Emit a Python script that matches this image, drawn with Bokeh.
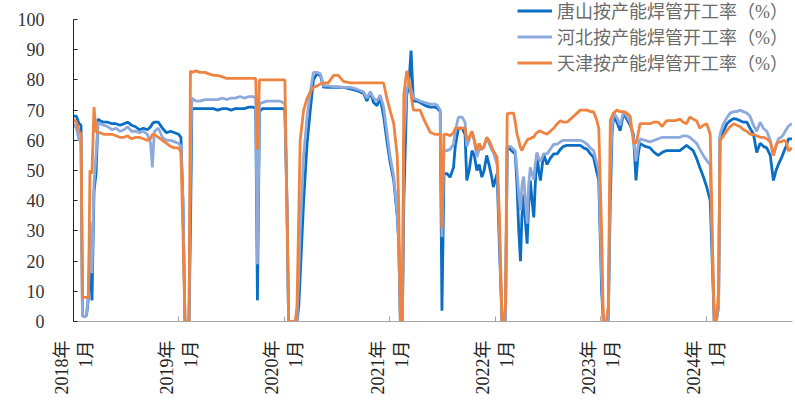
import math
import pandas as pd
from bokeh.plotting import figure
from bokeh.models import Range1d, FixedTicker, Legend, LegendItem, ColumnDataSource
from bokeh.embed import file_html
from bokeh.resources import INLINE

dates = [
    "2018-01-01", "2018-01-11", "2018-01-20", "2018-01-27", "2018-02-01", "2018-02-08", "2018-02-15",
    "2018-02-22", "2018-02-27", "2018-03-06", "2018-03-13", "2018-03-20", "2018-03-27", "2018-04-03",
    "2018-04-16", "2018-04-30", "2018-05-14", "2018-05-28", "2018-06-11", "2018-06-25", "2018-07-07",
    "2018-07-21", "2018-08-04", "2018-08-17", "2018-08-31", "2018-09-14", "2018-09-25", "2018-10-01",
    "2018-10-08", "2018-10-22", "2018-11-05", "2018-11-19", "2018-12-03", "2018-12-17", "2018-12-31",
    "2019-01-08", "2019-01-15", "2019-01-22", "2019-02-05", "2019-02-10", "2019-02-15", "2019-03-01",
    "2019-03-15", "2019-04-01", "2019-04-15", "2019-05-01", "2019-05-15", "2019-06-01", "2019-06-15",
    "2019-07-01", "2019-07-15", "2019-08-01", "2019-08-15", "2019-09-01", "2019-09-15", "2019-09-24",
    "2019-09-30", "2019-10-07", "2019-10-17", "2019-11-01", "2019-11-15", "2019-12-01", "2019-12-15",
    "2019-12-28", "2020-01-03", "2020-01-10", "2020-01-16", "2020-02-08", "2020-02-14", "2020-02-20",
    "2020-02-25", "2020-03-08", "2020-03-20", "2020-03-31", "2020-04-11", "2020-04-23", "2020-05-05",
    "2020-05-16", "2020-06-01", "2020-06-20", "2020-07-06", "2020-07-24", "2020-08-16", "2020-09-06",
    "2020-09-20", "2020-10-02", "2020-10-13", "2020-10-25", "2020-11-05", "2020-11-17", "2020-11-28",
    "2020-12-10", "2020-12-21", "2021-01-01", "2021-01-14", "2021-01-26", "2021-01-31", "2021-02-06",
    "2021-02-13", "2021-02-18", "2021-02-28", "2021-03-07", "2021-03-15", "2021-03-23", "2021-04-04",
    "2021-04-15", "2021-05-03", "2021-05-20", "2021-06-05", "2021-06-15", "2021-06-24", "2021-06-30",
    "2021-07-07", "2021-07-17", "2021-07-28", "2021-08-09", "2021-08-15", "2021-08-26", "2021-09-08",
    "2021-09-18", "2021-09-24", "2021-10-02", "2021-10-12", "2021-10-20", "2021-10-29", "2021-11-06",
    "2021-11-15", "2021-11-23", "2021-12-02", "2021-12-10", "2021-12-19", "2021-12-25", "2022-01-07",
    "2022-01-15", "2022-01-24", "2022-01-30", "2022-02-05", "2022-02-11", "2022-02-22", "2022-03-05",
    "2022-03-11", "2022-03-17", "2022-03-23", "2022-03-29", "2022-04-03", "2022-04-09", "2022-04-15",
    "2022-04-21", "2022-04-26", "2022-05-02", "2022-05-08", "2022-05-14", "2022-05-19", "2022-05-25",
    "2022-05-31", "2022-06-06", "2022-06-17", "2022-06-29", "2022-07-10", "2022-07-22", "2022-08-03",
    "2022-08-14", "2022-08-25", "2022-09-06", "2022-09-18", "2022-09-29", "2022-10-11", "2022-10-22",
    "2022-11-03", "2022-11-15", "2022-11-26", "2022-12-07", "2022-12-17", "2022-12-25", "2023-01-04",
    "2023-01-10", "2023-01-20", "2023-01-27", "2023-02-03", "2023-02-09", "2023-02-14", "2023-02-26",
    "2023-03-09", "2023-03-21", "2023-04-01", "2023-04-13", "2023-04-24", "2023-05-03", "2023-05-10",
    "2023-05-17", "2023-06-03", "2023-06-20", "2023-07-05", "2023-07-19", "2023-08-02", "2023-08-17",
    "2023-09-01", "2023-09-16", "2023-10-02", "2023-10-14", "2023-10-25", "2023-11-05", "2023-11-17",
    "2023-11-29", "2023-12-10", "2023-12-22", "2024-01-03", "2024-01-15", "2024-01-22", "2024-01-29",
    "2024-02-05", "2024-02-13", "2024-02-18", "2024-03-01", "2024-03-13", "2024-03-24", "2024-04-05",
    "2024-04-16", "2024-04-28", "2024-05-09", "2024-05-21", "2024-06-01", "2024-06-13", "2024-06-24",
    "2024-07-06", "2024-07-17", "2024-07-29", "2024-08-10", "2024-08-21", "2024-08-30", "2024-09-07",
    "2024-09-17", "2024-09-25", "2024-10-04", "2024-10-12", "2024-10-24",
]

tangshan = [
    68, 68, 65.5, 65, 2, 1.5, 2, 8, 23.5, 7, 43, 49, 67, 66.5,
    66, 66, 65.5, 65.5, 65, 65.5, 66, 65, 64.5, 63.5, 64, 63.5, 64.5, 65.5,
    66, 66, 64, 62.5, 63, 62.5, 62,
    61, 40, 0, 0, 30, 70.5, 70.5, 70.5, 70.5, 70.5, 70.5, 70, 70.5, 70.5,
    70, 70.5, 70.5, 70.5, 71, 71, 70.5, 7, 69.5, 70.5, 70.5, 70.5, 70.5, 70.5,
    70.5, 70, 40, 0, 0, 0, 5, 15, 40, 59, 70, 80, 82, 81.5,
    77.6, 77.5, 77.5, 77.5, 77.5, 77, 76.5, 76, 75.5, 73, 76, 72.5, 71.5, 74,
    68, 60, 53, 46.7, 35, 26.8, 0, 0, 40, 75, 78, 89.7, 73, 73,
    72.5, 71.5, 71, 71, 70.5, 69.5, 3.6, 49, 49, 47.8, 51, 58, 64, 64,
    62, 46.7, 50, 56.6, 55, 50, 52, 47.8, 50, 55, 52, 48, 44.5, 49,
    25, 0, 0, 0, 57.7, 57, 56, 55.5, 45, 30, 20, 35, 42, 33,
    25.8, 38, 46.7, 40, 34.5, 45, 55.5, 50, 46.7, 55.5, 52, 54, 55.5, 55.5,
    57, 58, 58.3, 58.3, 58.3, 58.3, 58.3, 57.5, 57, 55.5, 54.4, 50, 46.7, 10,
    0, 0, 0, 40, 62, 67.7, 66, 63.2, 69, 67, 65, 62, 46.7, 55,
    59, 58, 57.6, 56, 55, 56, 56.6, 56.6, 56.6, 56.6, 57.5, 58.3, 57.5, 56.6,
    54, 51, 48, 44.5, 40, 20, 0, 0, 5, 61, 63, 65.5, 66.5, 67.2,
    67, 66.5, 66, 66, 64, 62, 56, 59, 58, 57.5, 55, 46.7, 50, 52,
    54, 56, 58, 60.5, 60.5,
]

hebei = [
    65.5, 64, 60, 60, 2, 1.5, 2, 10, 33, 16, 46, 55, 66, 65.5,
    65, 64.5, 63.5, 64, 63, 63.5, 64.5, 63, 63, 62.5, 63, 62, 59, 51,
    63, 64, 61, 60, 60, 59.5, 59,
    58, 40, 0, 0, 50, 74, 73, 73, 73.5, 73.5, 73.5, 73.5, 74, 73.5,
    74, 74, 74.5, 74, 74.5, 74.5, 74, 19, 72, 72.5, 73, 73, 73, 73,
    72.5, 72, 40, 0, 0, 0, 15, 30, 55, 68, 76, 82.5, 82.5, 82,
    78, 78, 77.8, 77.8, 77.5, 77.5, 77, 76.5, 76, 74, 76, 74, 73, 75,
    71, 63, 55, 48, 36, 27, 0, 0, 60, 77.6, 77.6, 77, 74, 73.5,
    73, 72.5, 72, 72, 71.5, 70, 28, 56.6, 56.6, 57, 58.7, 63, 67.7, 67.7,
    66, 58, 60, 63, 60, 54.4, 57, 57, 58, 61, 59, 57, 56, 52,
    30, 0, 0, 0, 58, 58, 57, 56.5, 50, 42, 36.7, 45, 48, 40,
    32.4, 45, 51, 49, 47, 52, 56, 54, 53, 55.5, 55.5, 57, 58.7, 58.7,
    59.5, 60, 60, 60, 60, 60, 60, 59.5, 58.7, 57.5, 56.6, 53, 50, 15,
    0, 0, 0, 50, 64, 69, 67.5, 65, 69.5, 68, 66, 61, 53, 58,
    60.5, 60, 59.5, 60, 60.5, 61, 61, 61, 61, 61, 61.5, 61.5, 61, 60,
    59, 57, 55, 53.3, 52, 25, 0, 0, 5, 62, 65.5, 67.5, 69, 69.5,
    69.5, 70, 69.5, 69, 68, 65, 63, 66, 64, 63, 60, 55, 58, 60.5,
    61, 62, 63.5, 64.7, 65.5,
]

tianjin = [
    67, 66, 63, 62, 8, 8, 8, 8, 50, 49, 71, 63, 62.5, 62.5,
    62, 62, 62, 61.5, 61, 61, 61.5, 60.5, 61, 61, 60.5, 60, 60.5, 62,
    62, 61, 60, 59, 58, 57.5, 57.5,
    56, 30, 0, 0, 83, 82.5, 83, 82.5, 82.5, 82, 81.5, 81.5, 81, 80.5,
    80.5, 80.5, 80.5, 80.5, 80.5, 80.5, 80.5, 57, 80, 80, 80, 80, 80, 80,
    80, 80, 40, 0, 0, 5, 35, 60, 70, 74, 76, 77.5, 78, 78.7,
    79, 79, 81.5, 81.5, 79.5, 79, 79, 79, 79, 79, 79, 79, 79, 79,
    79, 74, 70, 65.5, 55, 40, 0, 0, 75, 83, 80, 75, 70, 70,
    70, 66, 62.7, 62, 62, 62, 31, 62, 62, 61.5, 62.5, 64, 64, 64,
    64, 60, 61, 63, 60, 56.6, 59, 57, 58, 61, 60, 58, 56.6, 54.4,
    35, 0, 0, 5, 68.8, 69, 69, 66, 62, 60, 57.5, 56.6, 58, 59,
    60, 60.5, 60.5, 61, 61, 62, 62.5, 63, 63, 62.5, 62, 63, 64, 65.5,
    66.5, 66, 66, 67, 68, 69, 70, 70, 70, 69.5, 69.5, 67, 64, 30,
    0, 0, 5, 66.5, 68, 69, 70, 69.5, 69.5, 69, 68, 59.4, 59, 62,
    65.5, 65.5, 65.5, 66, 66, 64.6, 66.5, 66.5, 66.5, 67, 66, 65.5, 67.7, 67,
    66.5, 64, 65, 65.5, 62, 30, 0, 0, 10, 60, 61.5, 63.2, 64.5, 65.5,
    65, 64.5, 63.5, 63, 62, 62, 61.5, 61, 61, 60.5, 59.5, 55, 58.5, 59.5,
    59.5, 60, 59.5, 56.5, 57.5,
]

tick_years = [2018, 2019, 2020, 2021, 2022, 2023, 2024]
tick_labels = [f"{y}年\n1月" for y in tick_years]
y_ticks = [0, 10, 20, 30, 40, 50, 60, 70, 80, 90, 100]
series_names = ["唐山按产能焊管开工率（%）", "河北按产能焊管开工率（%）", "天津按产能焊管开工率（%）"]
colors = ["#0A6EC4", "#8EAADC", "#EE8440"]

serif = "'Liberation Serif', 'Noto Sans CJK SC'"

src = ColumnDataSource(dict(x=pd.to_datetime(dates), ts=tangshan, hb=hebei, tj=tianjin))

# frame reaches the top edge so the legend (drawn inside the frame) is not clipped;
# the extra headroom above 100 keeps 100 at the same place as in the original
p = figure(width=795, height=410, x_axis_type="datetime", output_backend="svg",
           toolbar_location=None,
           x_range=Range1d(pd.Timestamp("2018-01-01"), pd.Timestamp("2024-10-26")),
           y_range=Range1d(0, 106.3),
           min_border_left=73, min_border_right=3, min_border_top=0, min_border_bottom=89)
p.outline_line_color = None
p.xgrid.grid_line_color = None
p.ygrid.grid_line_color = None

renderers = []
for col, c in zip(["ts", "hb", "tj"], colors):
    r = p.line("x", col, source=src, line_color=c, line_width=2.8)
    renderers.append(r)

tick_ms = [pd.Timestamp(f"{y}-01-01").value // 10**6 for y in tick_years]
p.xaxis.ticker = FixedTicker(ticks=tick_ms)
p.xaxis.major_label_overrides = {t: lab for t, lab in zip(tick_ms, tick_labels)}
p.xaxis.major_label_orientation = math.pi / 2
p.xaxis.major_label_text_font = serif
p.xaxis.major_label_text_font_size = "18px"
p.xaxis.major_label_text_color = "#222222"
p.xaxis.major_label_standoff = 19
p.xaxis.axis_line_color = "#a6a6a6"
p.xaxis.major_tick_line_color = "#a6a6a6"
p.xaxis.major_tick_in = 5
p.xaxis.major_tick_out = 0
p.xaxis.minor_tick_line_color = None

p.yaxis.ticker = FixedTicker(ticks=y_ticks)
p.yaxis.bounds = (0, 100)
p.yaxis.major_label_text_font = serif
p.yaxis.major_label_text_font_size = "18px"
p.yaxis.major_label_text_color = "#333333"
p.yaxis.major_label_standoff = 29
p.yaxis.axis_line_color = "#222222"
p.yaxis.major_tick_line_color = "#222222"
p.yaxis.major_tick_in = 4
p.yaxis.major_tick_out = 0
p.yaxis.minor_tick_line_color = None

legend = Legend(items=[LegendItem(label=n, renderers=[r]) for n, r in zip(series_names, renderers)],
                location=(444, 246))
legend.background_fill_alpha = 0
legend.border_line_color = None
legend.padding = 0
legend.margin = 0
legend.spacing = 0
legend.glyph_width = 35
legend.glyph_height = 19
legend.label_height = 19
legend.label_standoff = 5
legend.label_text_font = serif
legend.label_text_font_size = "18px"
legend.label_text_color = "#6b6b6b"
p.add_layout(legend)

open("out.html", "w").write(file_html(p, INLINE))
